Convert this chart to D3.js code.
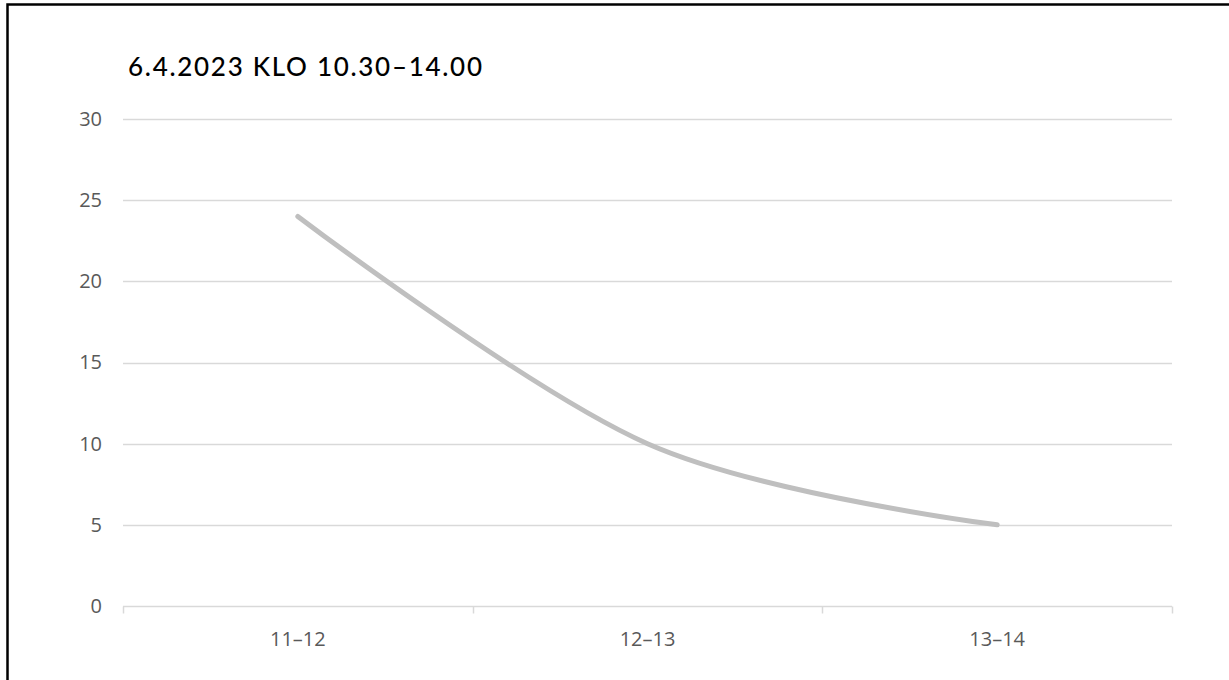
<!DOCTYPE html>
<html>
<head>
<meta charset="utf-8">
<script src="https://cdn.jsdelivr.net/npm/d3@7"></script>
<style>
  html, body { margin: 0; padding: 0; background: #ffffff; }
  svg { display: block; }
</style>
</head>
<body>
<svg id="chart" width="1229" height="680"></svg>
<script>
// Visitors per hour, 6 April 2023
const chartTitle = "6.4.2023 KLO 10.30–14.00";
const categories = ["11–12", "12–13", "13–14"];
const values = [24, 10, 5];
const yTicks = [0, 5, 10, 15, 20, 25, 30];

const svg = d3.select("#chart");
const W = 1229, H = 680;
const margin = { left: 123, right: 57, top: 119, bottom: 74 };

// outer frame
svg.append("rect")
  .attr("x", 7.5).attr("y", 4.5)
  .attr("width", W + 20).attr("height", H + 20)
  .attr("fill", "#ffffff")
  .attr("stroke", "#000000")
  .attr("stroke-width", 2.5);

const x = d3.scaleBand()
  .domain(categories)
  .range([margin.left, W - margin.right]);

const y = d3.scaleLinear()
  .domain([0, 30])
  .range([H - margin.bottom, margin.top]);

// horizontal gridlines
svg.append("g")
  .selectAll("line")
  .data(yTicks.filter(d => d > 0))
  .join("line")
  .attr("x1", margin.left).attr("x2", W - margin.right)
  .attr("y1", d => Math.round(y(d)) + 0.5)
  .attr("y2", d => Math.round(y(d)) + 0.5)
  .attr("stroke", "#d9d9d9")
  .attr("stroke-width", 1.5);

// y axis labels
const yAxis = d3.axisLeft(y).tickValues(yTicks).tickSize(0).tickPadding(21);
const gy = svg.append("g")
  .attr("transform", `translate(${margin.left},0)`)
  .call(yAxis);
gy.select(".domain").remove();
gy.selectAll("text")
  .attr("fill", "#595959")
  .style("font-family", "'Open Sans', sans-serif")
  .style("font-size", "20px");

// x axis with tick marks at category boundaries
const baseY = Math.round(y(0)) + 0.5;
const gx = svg.append("g");
gx.append("line")
  .attr("x1", margin.left).attr("x2", W - margin.right)
  .attr("y1", baseY).attr("y2", baseY)
  .attr("stroke", "#d9d9d9").attr("stroke-width", 1.5);
const bounds = categories.map(c => x(c)).concat([x(categories[categories.length - 1]) + x.bandwidth()]);
gx.selectAll("line.tick")
  .data(bounds)
  .join("line")
  .attr("class", "tick")
  .attr("x1", d => Math.round(d) + 0.5).attr("x2", d => Math.round(d) + 0.5)
  .attr("y1", baseY).attr("y2", baseY + 7)
  .attr("stroke", "#d9d9d9").attr("stroke-width", 1.5);
gx.selectAll("text")
  .data(categories)
  .join("text")
  .attr("x", d => x(d) + x.bandwidth() / 2)
  .attr("y", baseY + 39)
  .attr("text-anchor", "middle")
  .attr("fill", "#595959")
  .style("font-family", "'Open Sans', sans-serif")
  .style("font-size", "20px")
  .text(d => d);

// smoothed series line
const line = d3.line()
  .x((d, i) => x(categories[i]) + x.bandwidth() / 2)
  .y(d => y(d))
  .curve(d3.curveCardinal.tension(0));

svg.append("path")
  .datum(values)
  .attr("d", line)
  .attr("fill", "none")
  .attr("stroke", "#bfbfbf")
  .attr("stroke-width", 5)
  .attr("stroke-linecap", "round")
  .attr("stroke-linejoin", "round");

// title
svg.append("text")
  .attr("x", 128)
  .attr("y", 76)
  .attr("fill", "#000000")
  .attr("textLength", 354)
  .attr("lengthAdjust", "spacing")
  .style("font-family", "Lato, sans-serif")
  .style("font-size", "26px")
  .style("font-weight", 500)
  .text(chartTitle);
</script>
</body>
</html>
